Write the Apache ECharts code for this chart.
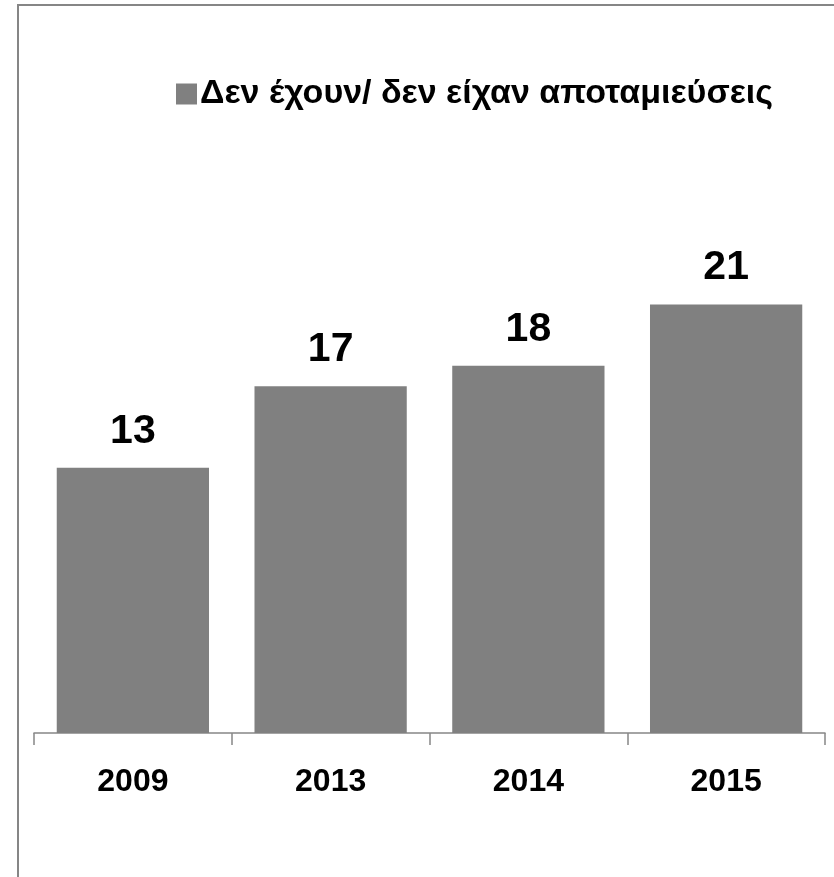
<!DOCTYPE html>
<html><head><meta charset="utf-8">
<script src="https://cdn.jsdelivr.net/npm/echarts@6/dist/echarts.min.js"></script>
<style>html,body{margin:0;padding:0;background:#fff}#c{width:834px;height:877px}</style>
</head><body><div id="c"></div>
<script>
const categories = ['2009', '2013', '2014', '2015'];
const seriesName = 'Δεν έχουν/ δεν είχαν αποταμιεύσεις';
const values = [13, 17, 18, 21];

const FONT = '"Liberation Sans", Arial, sans-serif';
const chart = echarts.init(document.getElementById('c'));
chart.setOption({
  animation: false,
  backgroundColor: '#fff',
  graphic: [{
    type: 'rect', silent: true,
    shape: { x: 18, y: 5, width: 900, height: 900 },
    style: { fill: 'none', stroke: '#868686', lineWidth: 2 }
  }],
  legend: {
    left: 171, top: 72,
    itemWidth: 21, itemHeight: 21, itemGap: 8,
    icon: 'rect',
    textStyle: { fontFamily: FONT, fontWeight: 'bold', fontSize: 34, color: '#000', padding: [0, 0, 0, -2] },
    data: [seriesName]
  },
  grid: { left: 34, right: 9, top: 223, bottom: 144, containLabel: false },
  xAxis: {
    type: 'category', data: categories,
    axisLine: { lineStyle: { color: '#868686', width: 1.5 } },
    axisTick: { show: true, length: 12, lineStyle: { color: '#868686', width: 1.5 } },
    axisLabel: { margin: 33, fontFamily: FONT, fontWeight: 'bold', fontSize: 32, color: '#000' }
  },
  yAxis: {
    type: 'value', min: 0, max: 25, interval: 5,
    show: false, splitLine: { show: false }
  },
  series: [{
    name: seriesName, type: 'bar', data: values,
    barCategoryGap: '23%',
    itemStyle: { color: '#808080' },
    label: { show: true, position: 'top', distance: 16, fontFamily: FONT, fontWeight: 'bold', fontSize: 41, color: '#000' }
  }]
});
</script></body></html>
